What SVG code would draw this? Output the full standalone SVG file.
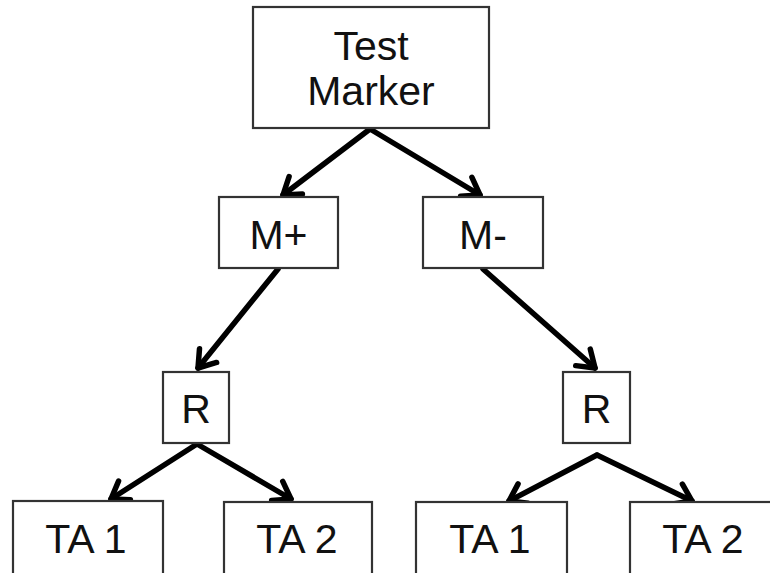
<svg xmlns="http://www.w3.org/2000/svg" width="770" height="573" viewBox="0 0 770 573">
<style>
.box{fill:#fff;stroke:#333;stroke-width:2.2}
.lbl{font-family:"Liberation Sans",Arial,sans-serif;font-size:41px;fill:#111;text-anchor:middle}
.edge{fill:none;stroke:#000;stroke-width:5.5;stroke-linecap:round}
</style>
<defs>
<marker id="arr" markerUnits="userSpaceOnUse" markerWidth="40" markerHeight="40" refX="0" refY="0" viewBox="-20 -20 40 40" orient="auto" overflow="visible">
<path d="M-16,-11 L0,0 L-16,11" fill="none" stroke="#000" stroke-width="5.5" stroke-linecap="round" stroke-linejoin="round"/>
</marker>
</defs>
<rect width="770" height="573" fill="#fff"/>
<g id="edges">
<line class="edge" x1="370" y1="129" x2="283" y2="195" marker-end="url(#arr)"/>
<line class="edge" x1="370" y1="129" x2="480" y2="195" marker-end="url(#arr)"/>
<line class="edge" x1="278" y1="269" x2="198" y2="368" marker-end="url(#arr)"/>
<line class="edge" x1="483" y1="269" x2="595" y2="368" marker-end="url(#arr)"/>
<line class="edge" x1="197" y1="444" x2="111" y2="499" marker-end="url(#arr)"/>
<line class="edge" x1="197" y1="444" x2="291" y2="499" marker-end="url(#arr)"/>
<line class="edge" x1="597" y1="455" x2="509" y2="501" marker-end="url(#arr)"/>
<line class="edge" x1="597" y1="455" x2="692" y2="501" marker-end="url(#arr)"/>
</g>
<g id="test-marker">
<rect class="box" x="253" y="7" width="236" height="121"/>
<text class="lbl" x="371" y="60">Test</text>
<text class="lbl" x="371" y="105">Marker</text>
</g>
<g id="m-plus">
<rect class="box" x="219" y="197" width="119" height="71"/>
<text class="lbl" x="278.5" y="249">M+</text>
</g>
<g id="m-minus">
<rect class="box" x="423" y="197" width="120" height="71"/>
<text class="lbl" x="483" y="249">M-</text>
</g>
<g id="r-left">
<rect class="box" x="163" y="372" width="66" height="71"/>
<text class="lbl" x="196" y="423">R</text>
</g>
<g id="r-right">
<rect class="box" x="563" y="372" width="67" height="71"/>
<text class="lbl" x="596.5" y="423">R</text>
</g>
<g id="ta1-left">
<rect class="box" x="13" y="501" width="150" height="80"/>
<text class="lbl" x="86" y="553">TA 1</text>
</g>
<g id="ta2-left">
<rect class="box" x="224" y="502" width="148" height="80"/>
<text class="lbl" x="297" y="553">TA 2</text>
</g>
<g id="ta1-right">
<rect class="box" x="416" y="502" width="151" height="80"/>
<text class="lbl" x="490" y="553">TA 1</text>
</g>
<g id="ta2-right">
<rect class="box" x="630" y="502" width="150" height="80"/>
<text class="lbl" x="703" y="553">TA 2</text>
</g>
</svg>
